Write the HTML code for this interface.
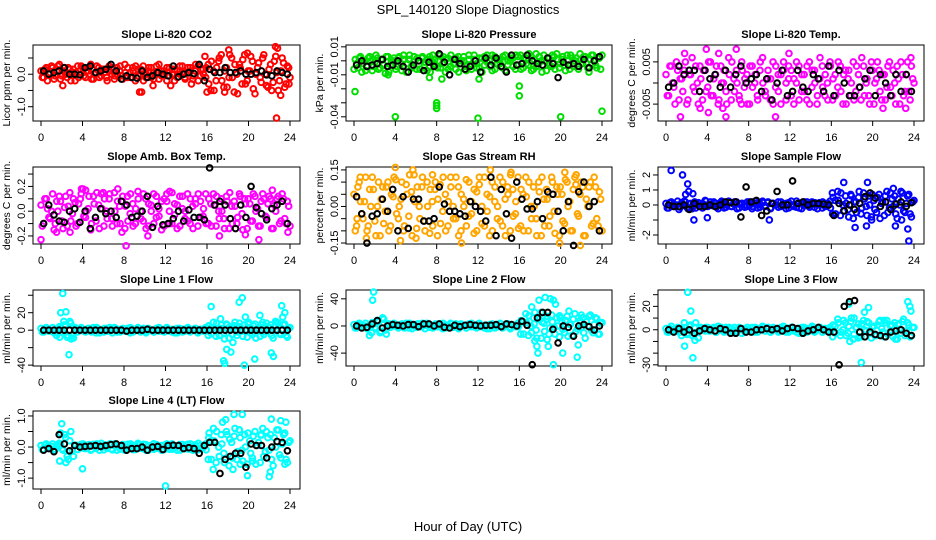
<!DOCTYPE html>
<html><head><meta charset="utf-8"><style>
html,body{margin:0;padding:0;background:#fff;}
svg{display:block;font-family:"Liberation Sans",sans-serif;}
</style></head><body>
<svg id="chart" width="936" height="540" viewBox="0 0 936 540">
<text x="468" y="14" text-anchor="middle" font-size="13">SPL_140120  Slope Diagnostics</text>
<text x="468" y="531" text-anchor="middle" font-size="13">Hour of Day (UTC)</text>
</svg>
<script>
const xTicks=[0,4,8,12,16,20,24];
const titles=["Slope Li-820 CO2","Slope Li-820 Pressure","Slope Li-820 Temp.","Slope Amb. Box Temp.","Slope Gas Stream RH","Slope Sample Flow","Slope Line 1 Flow","Slope Line 2 Flow","Slope Line 3 Flow","Slope Line 4 (LT) Flow"];
const yTitles=["Licor ppm per min.","kPa per min.","degrees C per min.","degrees C per min.","percent per min.","ml/min per min.","ml/min per min.","ml/min per min.","ml/min per min.","ml/min per min."];
const colors=["#ff0000","#00dd00","#ff00ff","#ff00ff","#ffa500","#0000ff","#00ffff","#00ffff","#00ffff","#00ffff"];
const yRanges=[[-1.44,0.9],[-0.043,0.0113],[-0.009,0.009],[-0.265,0.357],[-0.154,0.162],[-2.6,2.53],[-41,46],[-59,53],[-31,34],[-1.35,1.16]];
const yTickVals=[[-1,-0.5,0,0.5],[-0.04,-0.03,-0.02,-0.01,0,0.01],[-0.005,0,0.005],[-0.2,-0.1,0,0.1,0.2,0.3],[-0.15,-0.1,-0.05,0,0.05,0.1,0.15],[-2,-1,0,1,2],[-40,-20,0,20,40],[-40,0,40],[-30,-20,-10,0,10,20,30],[-1,-0.5,0,0.5,1]];
const yTickLabels=[["-1.0","","0.0",""],["-0.04","","","-0.01","","0.01"],["-0.005","","0.005"],["-0.2","","0.0","","0.2",""],["-0.15","","","0.00","","","0.15"],["-2","","0","1","2"],["-40","","0","20",""],["-40","0","40"],["-30","","","0","","20",""],["-1.0","","0.0","","1.0"]];
const col0=[0.1,-0.1,0.2,0.0,0.25,-0.15,0.1,0.3,-0.05,0.2,-0.1,0.15,0.05,-0.2,0.25,0.0,0.2,-0.1,0.1,0.3,-0.15,0.05,0.2,-0.05,0.15,-0.1,0.25,0.0,-0.15,0.2,0.1,-0.05,0.3,-0.1,0.05,0.2,-0.2,0.15,0.0,0.25,-0.1,0.1,0.2,-0.15,0.05,0.3,-0.05,0.1,-0.2,0.2,0.0,0.15,-0.1,0.25,0.05,-0.15,0.2,0.1,-0.05,0.3,-0.2,0.15,0.0,0.2,-0.3,0.4,-0.5,0.2,0.5,-0.2,0.1,-0.4,0.6,-0.1,0.3,-0.6,0.2,0.45,-0.3,0.1,0.55,-0.45,0.0,0.35,-0.25,0.6,-0.35,0.15,-0.5,0.4,0.05,-0.2,0.5,-0.4,0.25,-0.1];
const col1=[-0.006,-0.002,0.002,-0.008,0.000,-0.004,0.003,-0.007,-0.001,0.002,-0.005,0.001,-0.009,0.003,-0.003,0.000,-0.006,0.002,-0.002,0.004,-0.008,0.001,-0.004,0.003,-0.006,0.000,0.002,-0.003,-0.007,0.003,-0.001,0.001,-0.005,0.004,-0.002,-0.008,0.002,-0.004,0.001,-0.006,0.003,-0.002,0.000,-0.007,0.004,-0.003,0.001,-0.005,0.002,-0.008,0.003,-0.001,-0.004,0.004,-0.006,0.001,-0.002,0.003,-0.007,0.000,0.002,-0.004,0.004,-0.003,-0.006,0.002,-0.002,0.005,-0.007,0.001,-0.004,0.003,-0.008,0.000,0.002,-0.003,0.004,-0.006,0.001,-0.002,0.003,-0.007,0.000,0.004,-0.004,0.002,-0.006,0.001,0.003,-0.002,-0.008,0.004,0.000,-0.005,0.002,0.004];
const col2=[0.002,-0.003,0.004,-0.001,0.005,-0.004,0.001,0.003,-0.005,0.002,0.006,-0.002,0.000,0.004,-0.004,0.003,-0.001,0.005,-0.003,0.002,-0.005,0.004,0.000,-0.002,0.006,-0.004,0.001,0.003,-0.003,0.005,-0.001,0.002,-0.005,0.004,0.000,-0.003,0.003,0.006,-0.002,0.001,-0.004,0.005,-0.001,0.002,-0.005,0.003,0.000,0.004,-0.003,0.001,0.005,-0.004,0.002,-0.002,0.004,-0.005,0.003,0.000,-0.003,0.006,-0.001,0.002,-0.004,0.004,0.001,-0.003,0.005,-0.002,0.002,-0.005,0.003,0.000,-0.004,0.004,-0.001,0.006,-0.003,0.001,-0.005,0.003,0.000,0.005,-0.002,0.002,-0.004,0.004,-0.001,0.003,-0.005,0.001,0.005,-0.003,0.002,-0.002,0.004,0.000];
const col3=[0.05,-0.1,0.1,-0.05,0.0,-0.15,0.08,0.12,-0.08,0.03,-0.12,0.15,-0.02,0.07,-0.1,0.1,0.18,-0.05,0.02,-0.15,0.12,-0.08,0.05,0.14,-0.12,0.0,0.1,-0.06,0.15,-0.1,0.04,0.08,-0.14,0.12,-0.02,0.06,-0.1,0.16,0.0,-0.08,0.1,-0.12,0.05,0.14,-0.05,0.02,-0.15,0.1,0.08,-0.1,0.15,-0.03,0.05,-0.12,0.12,0.0,-0.08,0.1,-0.14,0.06,0.14,-0.05,0.02,-0.1,0.1,-0.12,0.05,0.12,-0.06,0.0,-0.14,0.08,0.15,-0.1,0.04,-0.05,0.12,-0.15,0.06,0.1,-0.08,0.14,0.0,-0.12,0.08,0.1,-0.05,0.12,-0.14,0.05,0.1,-0.1,0.14,-0.06,0.08,-0.12];
const col4=[0.05,-0.08,0.1,-0.03,0.02,-0.1,0.07,0.12,-0.06,0.0,-0.12,0.08,-0.02,0.1,-0.08,0.04,0.11,-0.05,0.03,-0.1,0.09,-0.04,0.06,0.13,-0.09,0.0,0.08,-0.06,0.1,-0.11,0.02,0.07,-0.12,0.09,-0.02,0.05,-0.08,0.12,0.0,-0.05,0.08,-0.1,0.03,0.11,-0.04,0.02,-0.11,0.06,0.09,-0.07,0.12,-0.02,0.04,-0.1,0.08,0.0,-0.06,0.1,-0.12,0.05,0.13,-0.04,0.02,-0.09,0.07,-0.1,0.04,0.1,-0.05,0.0,-0.12,0.06,0.12,-0.08,0.03,-0.04,0.1,-0.11,0.05,0.08,-0.06,0.11,0.0,-0.1,0.07,0.09,-0.04,0.1,-0.12,0.03,0.08,-0.08,0.12,-0.05,0.06,-0.1];
const col5=[0.1,-0.2,0.2,-0.1,0.0,-0.3,0.15,0.25,-0.15,0.05,-0.25,0.2,0.0,0.1,-0.2,0.3,-0.1,0.2,-0.05,0.1,-0.25,0.15,0.0,-0.15,0.25,-0.1,0.05,0.2,-0.2,0.1,0.0,-0.1,0.2,-0.25,0.1,0.0,-0.15,0.25,-0.05,0.15,-0.2,0.1,0.0,0.2,-0.1,0.05,-0.25,0.15,0.0,-0.1,0.25,-0.2,0.1,-0.05,0.2,-0.15,0.05,0.15,-0.25,0.0,0.2,-0.1,0.1,-0.2,0.5,-0.6,0.3,0.8,-0.4,0.1,-0.8,0.6,0.2,-0.5,0.9,-0.2,0.4,-0.7,0.0,0.7,-0.3,0.5,-0.9,0.2,0.6,-0.5,0.8,-0.1,-0.6,0.4,0.9,-0.4,0.1,0.7,-0.8,0.3];
const col6=[2,-2,3,-1,0,-3,1,4,-2,6,-8,10,-6,3,-2,1,0,-2,2,-1,3,-3,1,0,-2,2,-1,1,3,-2,0,1,-1,2,-3,1,0,3,-2,1,-1,2,0,-2,1,3,-1,0,2,-1,1,-3,2,0,-2,1,3,-1,0,2,-2,1,0,-1,5,-4,3,8,-6,2,-10,6,4,-5,9,-2,4,-7,0,7,-3,5,-9,2,6,-5,8,-1,-6,4,9,-4,1,7,-8,3];
const col7=[2,-3,4,-1,0,-4,1,5,-2,8,-10,12,-6,3,-2,1,0,-3,2,-1,4,-3,1,0,-2,3,-1,1,4,-2,0,1,-1,3,-4,1,0,4,-2,1,-1,3,0,-3,1,4,-1,0,2,-1,1,-4,2,0,-3,1,4,-1,0,3,-2,1,0,-1,8,-12,5,15,-10,3,-18,10,6,-8,14,-3,6,-12,0,12,-5,8,-15,3,10,-8,12,-2,-10,6,14,-6,2,11,-12,5];
const col8=[1,-2,3,-1,0,-2,1,6,-4,3,-5,2,-2,1,0,-1,2,-1,1,-2,3,0,-1,2,-2,1,0,-1,2,-3,1,0,-1,2,-2,1,0,3,-1,1,-2,2,0,-1,1,3,-2,0,2,-1,1,-3,2,0,-2,1,3,-1,0,2,-2,1,0,-1,4,-3,6,-2,8,-5,3,10,-4,2,-6,5,0,7,-3,2,-5,4,8,-2,6,-4,3,-6,1,5,-3,9,-1,4,-5,2];
const col9=[0.05,-0.08,0.1,-0.03,0.02,-0.1,0.07,0.12,-0.06,0.4,-0.3,0.2,-0.1,0.05,-0.08,0.04,0.1,-0.05,0.03,-0.1,0.09,-0.04,0.06,0.12,-0.09,0.0,0.08,-0.06,0.1,-0.1,0.02,0.07,-0.1,0.09,-0.02,0.05,-0.08,0.12,0.0,-0.05,0.08,-0.1,0.03,0.11,-0.04,0.02,-0.1,0.06,0.09,-0.07,0.1,-0.02,0.04,-0.1,0.08,0.0,-0.06,0.1,-0.1,0.05,0.12,-0.04,0.02,-0.09,0.3,-0.4,0.2,0.5,-0.3,0.1,-0.5,0.4,0.25,-0.35,0.6,-0.15,0.3,-0.45,0.0,0.45,-0.2,0.35,-0.55,0.15,0.4,-0.3,0.5,-0.1,-0.4,0.3,0.55,-0.25,0.1,0.45,-0.5,0.2];
const col0b=[-0.1,0.15,-0.2,0.05,0.2,-0.05,0.25,-0.15,0.1,0.0,0.2,-0.2,0.15,0.05,-0.1,0.25,-0.05,0.1,0.2,-0.15,0.0,0.25,-0.1,0.15,0.05,-0.2,0.1,0.2,-0.05,0.0,0.25,-0.15,0.05,0.2,-0.1,0.1,0.25,-0.05,0.15,-0.2,0.0,0.2,-0.1,0.05,0.25,-0.15,0.1,0.0,0.2,-0.05,0.15,-0.2,0.1,0.0,0.25,-0.1,0.05,0.2,-0.15,0.1,0.25,-0.05,0.15,-0.1,0.3,-0.5,0.1,-0.2,0.4,0.6,-0.4,0.2,-0.1,0.5,-0.55,0.0,0.3,-0.3,0.6,-0.2,0.1,0.4,-0.6,0.2,-0.1,0.5,0.0,-0.4,0.3,-0.25,0.55,-0.5,0.1,0.35,-0.3,0.2];
const col1b=[0.001,-0.005,0.003,-0.002,-0.007,0.002,0.000,-0.004,0.004,-0.006,0.001,-0.003,0.003,-0.008,0.000,0.002,-0.004,0.003,-0.007,0.001,-0.002,0.004,-0.005,0.000,0.002,-0.006,0.003,-0.001,0.001,-0.008,0.004,-0.003,0.000,-0.005,0.003,0.001,-0.006,0.004,-0.002,0.002,-0.008,0.000,0.003,-0.004,0.001,-0.006,0.004,-0.002,-0.005,0.002,-0.003,0.004,0.000,-0.007,0.003,-0.002,0.001,-0.005,0.004,-0.003,0.000,0.002,-0.006,0.003,0.004,-0.005,0.001,-0.003,0.003,-0.006,0.005,-0.002,0.000,0.004,-0.007,0.002,-0.004,0.003,0.005,-0.005,0.001,-0.003,0.004,-0.006,0.002,0.000,-0.004,0.005,-0.002,0.003,-0.005,0.001,0.004,-0.003,0.002,-0.006];
const col2b=[-0.003,0.004,0.000,-0.005,0.003,0.001,-0.002,0.005,-0.004,0.002,-0.001,0.004,-0.005,0.001,0.003,-0.002,0.005,-0.003,0.001,0.004,-0.004,0.000,0.003,-0.005,0.002,0.005,-0.002,0.000,-0.004,0.003,0.001,-0.005,0.004,-0.001,0.002,-0.004,0.005,0.000,-0.003,0.003,0.001,-0.005,0.004,-0.002,0.002,0.005,-0.004,0.001,0.003,-0.005,0.000,0.004,-0.002,0.002,-0.004,0.005,-0.001,0.003,-0.005,0.001,0.004,-0.003,0.000,0.005,-0.004,0.002,-0.001,0.004,-0.005,0.003,0.001,-0.003,0.005,-0.002,0.002,-0.004,0.004,0.000,-0.003,0.005,-0.005,0.001,0.003,-0.004,0.002,-0.001,0.005,-0.003,0.000,0.004,-0.005,0.002,-0.002,0.005,-0.004,0.001];
const col3b=[-0.12,0.1,0.02,-0.06,0.14,-0.1,0.0,0.08,-0.14,0.12,0.04,-0.08,0.1,-0.12,0.06,0.14,-0.04,0.0,0.12,-0.1,0.06,0.15,-0.14,0.02,0.1,-0.06,0.14,-0.12,0.0,0.08,-0.1,0.12,0.04,-0.08,0.14,-0.12,0.02,0.1,-0.06,0.14,-0.14,0.06,0.0,-0.1,0.12,-0.04,0.08,-0.12,0.14,0.0,-0.1,0.06,-0.14,0.12,0.02,-0.06,0.14,-0.1,0.04,0.1,-0.12,0.08,-0.04,0.14,-0.1,0.06,0.14,-0.12,0.0,0.1,-0.06,0.12,-0.14,0.04,0.08,-0.1,0.14,-0.02,0.1,-0.14,0.06,-0.08,0.12,0.02,-0.12,0.14,-0.04,0.06,0.1,-0.14,0.0,0.12,-0.08,0.1,-0.1,0.04];
const col4b=[-0.1,0.08,0.02,-0.05,0.12,-0.08,0.0,0.07,-0.12,0.1,0.03,-0.07,0.08,-0.1,0.05,0.12,-0.03,0.0,0.1,-0.08,0.05,0.13,-0.12,0.02,0.08,-0.05,0.12,-0.1,0.0,0.07,-0.08,0.1,0.03,-0.07,0.12,-0.1,0.02,0.08,-0.05,0.12,-0.12,0.05,0.0,-0.08,0.1,-0.03,0.07,-0.1,0.12,0.0,-0.08,0.05,-0.12,0.1,0.02,-0.05,0.12,-0.08,0.03,0.08,-0.1,0.07,-0.03,0.12,-0.08,0.05,0.12,-0.1,0.0,0.08,-0.05,0.1,-0.12,0.03,0.07,-0.08,0.12,-0.02,0.08,-0.12,0.05,-0.07,0.1,0.02,-0.1,0.12,-0.03,0.05,0.08,-0.12,0.0,0.1,-0.07,0.08,-0.08,0.03];
const col5b=[-0.2,0.15,0.0,-0.1,0.25,-0.15,0.05,0.2,-0.25,0.1,0.0,-0.2,0.15,-0.1,0.05,0.25,-0.05,0.0,0.2,-0.15,0.1,0.25,-0.2,0.0,0.15,-0.1,0.2,-0.25,0.05,0.1,-0.15,0.2,0.0,-0.1,0.25,-0.2,0.05,0.15,-0.1,0.2,-0.25,0.1,0.0,-0.15,0.2,-0.05,0.1,-0.2,0.25,0.0,-0.15,0.1,-0.25,0.2,0.05,-0.1,0.2,-0.15,0.05,0.15,-0.2,0.1,-0.05,0.25,-0.6,0.3,0.9,-0.7,0.0,0.6,-0.3,0.7,-0.9,0.2,0.5,-0.6,0.8,-0.1,0.6,-0.8,0.3,-0.5,0.7,0.1,-0.7,0.9,-0.2,0.4,0.6,-0.9,0.0,0.8,-0.5,0.6,-0.6,0.2];
const col6b=[-2,1,0,-1,3,-2,0,2,-3,5,-6,8,-9,2,1,3,-1,0,2,-2,1,3,-3,0,2,-1,3,-3,1,1,-2,2,0,-1,3,-2,1,2,-1,2,-3,1,0,-2,2,-1,1,-2,3,0,-2,1,-3,2,1,-1,2,-2,1,2,-3,1,-1,3,-6,3,9,-7,0,6,-3,7,-9,2,5,-6,8,-1,6,-8,3,-5,7,1,-7,9,-2,4,6,-9,0,8,-5,6,-6,2];
const col7b=[-3,2,0,-2,4,-3,0,3,-4,6,-8,10,-12,3,1,4,-1,0,3,-3,1,4,-4,0,3,-1,4,-4,1,1,-3,3,0,-1,4,-3,1,3,-1,3,-4,1,0,-3,3,-1,1,-3,4,0,-3,1,-4,3,1,-1,3,-3,1,3,-4,1,-1,4,-12,6,18,-14,0,12,-6,14,-18,4,10,-12,16,-2,12,-16,6,-10,14,2,-14,18,-4,8,12,-18,0,16,-10,12,-12,4];
const col8b=[-2,1,0,-1,2,-2,0,2,-3,4,-5,6,-7,2,1,2,-1,0,2,-2,1,2,-2,0,2,-1,2,-2,1,1,-2,2,0,-1,2,-2,1,2,-1,2,-2,1,0,-2,2,-1,1,-2,2,0,-2,1,-2,2,1,-1,2,-2,1,2,-2,1,-1,2,-6,3,9,-5,0,6,-3,7,-8,2,5,-6,8,-1,6,-7,3,-5,7,1,-6,8,-2,4,6,-8,0,7,-5,6,-6,2];
const col9b=[-0.08,0.06,0.0,-0.05,0.1,-0.07,0.02,0.08,-0.1,0.3,-0.4,0.5,-0.3,0.06,0.03,0.09,-0.04,0.0,0.08,-0.08,0.04,0.1,-0.1,0.0,0.07,-0.04,0.1,-0.09,0.03,0.05,-0.07,0.08,0.0,-0.05,0.1,-0.08,0.03,0.07,-0.04,0.09,-0.1,0.04,0.0,-0.07,0.08,-0.03,0.05,-0.08,0.1,0.0,-0.07,0.04,-0.1,0.08,0.03,-0.05,0.09,-0.07,0.03,0.07,-0.09,0.05,-0.03,0.1,-0.4,0.2,0.6,-0.5,0.0,0.4,-0.2,0.5,-0.6,0.15,0.35,-0.4,0.55,-0.1,0.4,-0.55,0.2,-0.35,0.5,0.05,-0.5,0.6,-0.15,0.3,0.4,-0.6,0.0,0.55,-0.35,0.4,-0.4,0.15];
const out0=[[2.1,-0.35],[9.5,-0.55],[9.7,-0.55],[10.8,-0.35],[12.5,-0.35],[14.5,-0.3],[15.8,0.55],[16,-0.55],[18.1,0.75],[19.9,0.65],[22.6,0.85],[22.8,0.8],[23.1,-0.65],[22.7,-1.35],[17.7,-0.55],[23.9,-0.3]];
const out1=[[0.1,-0.022],[4,-0.040],[8,-0.030],[8,-0.032],[8,-0.034],[12,-0.041],[16,-0.018],[16,-0.025],[20,-0.040],[24,-0.036],[7.3,-0.012],[8.5,-0.013],[12.1,-0.013],[3.3,-0.010]];
const out2=[[1.4,-0.008],[1.8,0.007],[3.9,0.008],[4.1,-0.007],[5.1,0.007],[5.5,-0.006],[5.8,-0.008],[7.3,-0.005],[6.8,0.008],[10.6,-0.008],[11.9,0.007],[21,-0.006],[23.2,-0.006],[23.7,0.006],[3.3,-0.006]];
const out3=[[0,-0.23],[1.5,-0.17],[2.8,-0.17],[3.9,0.18],[4.3,0.17],[6,0.15],[7.4,0.18],[7.8,-0.17],[8.2,-0.28],[10.3,-0.2],[12.4,0.16],[17.2,-0.2],[19.7,-0.19],[21,-0.23],[23.8,-0.17],[22.3,0.17]];
const out4=[[0.3,-0.05],[0.6,0.12],[1.2,-0.13],[4,0.16],[4.5,-0.14],[5.7,0.15],[6,-0.13],[10.4,-0.15],[13.2,0.15],[15.2,0.14],[20.4,0.14],[21.5,0.13],[19.9,-0.15],[21.9,-0.16],[7.6,0.13]];
const out5=[[0.5,2.3],[1.6,2.0],[2.1,1.4],[2.2,0.9],[1.9,0.7],[2.6,0.75],[2.7,-1.0],[4,-0.85],[10,-1.0],[17.2,1.5],[18.3,-1.5],[19.5,1.5],[19.4,-1.4],[19.9,-1.0],[22.2,-1.4],[22.8,-1.0],[23.4,-1.6],[23.5,-2.4],[22,1.1],[16.1,0.8]];
const out6=[[2.1,42],[1.9,20],[2.4,21],[2.2,10],[1.5,-6],[1.8,-8],[2.7,-28],[2.9,-10],[16.4,27],[17.3,13],[17.6,-35],[17.7,-38],[17.9,-22],[18.5,-14],[18.3,-25],[19.1,32],[19.4,37],[19.6,-40],[19.7,15],[20,9],[20.6,-33],[21.1,17],[22.2,-26],[22.4,-30],[22.6,10],[23.2,28],[23.5,20],[23.3,15]];
const out7=[[1.9,50],[1.8,38],[1.7,-10],[1.5,-14],[17.2,28],[17.5,20],[17.7,-30],[17.8,-40],[17.9,38],[18.5,42],[19,40],[19.3,38],[19.5,32],[18.1,20],[18.7,-20],[19.3,-57],[18.8,-30],[20.2,-40],[20.8,22],[21.6,-46],[21.7,-28],[22,16],[17.5,-22],[19.9,15]];
const out8=[[2.1,32],[2.4,16],[1.5,-5],[1.8,-14],[2.6,-24],[2.8,-9],[17.7,22],[18.6,-7],[18.9,-28],[18.2,10],[19.2,15],[19.6,19],[23.4,24],[23.6,20],[23.7,16],[17.8,-10],[22.2,-8],[21.1,8]];
const out9=[[2,0.75],[1.9,0.45],[1.8,-0.45],[2.4,-0.5],[4,-0.7],[12,-1.25],[16.2,0.45],[16.6,-0.72],[17.5,0.8],[17.8,0.88],[18.6,1.05],[19.1,0.55],[19.4,1.05],[19.9,-0.92],[20.4,-0.45],[21.2,0.38],[22,-0.95],[22.1,-0.8],[22.2,0.9],[23.1,0.85],[23.5,-0.55],[23.6,0.8],[19.2,-0.55],[18.5,-0.72]];
const blk0=[0.1,0.0,0.05,0.1,0.2,0.0,0.0,-0.02,0.2,0.25,0.05,0.1,0.15,0.3,0.1,-0.15,-0.05,-0.1,-0.12,0.1,-0.1,-0.05,0.05,0.0,-0.05,0.25,-0.08,0.0,0.05,0.02,0.3,-0.2,0.15,0.05,0.05,0.2,0.05,0.05,0.1,0.0,0.0,0.05,0.1,-0.02,-0.05,0.1,0.05,0.0];
const blk1=[-0.003,0.000,-0.004,-0.003,-0.002,0.001,-0.004,-0.003,0.000,-0.004,-0.008,-0.003,0.000,-0.007,-0.001,-0.004,0.005,-0.001,-0.010,0.001,-0.002,-0.006,-0.004,0.000,-0.008,0.002,-0.003,0.002,-0.004,-0.008,0.004,-0.003,-0.002,0.004,0.000,-0.002,-0.003,0.002,-0.002,-0.012,-0.001,-0.003,-0.002,-0.004,0.001,-0.005,0.000,0.003];
const blk2=[-0.001,0.000,0.004,0.002,0.003,0.003,-0.002,0.003,0.001,0.002,-0.001,0.003,-0.001,0.002,0.004,0.000,0.001,0.002,-0.002,0.001,-0.004,0.000,0.003,-0.003,-0.002,0.003,-0.001,-0.002,0.002,0.001,-0.002,0.004,-0.003,0.003,0.000,-0.003,-0.003,-0.001,0.001,0.003,-0.003,0.002,0.000,-0.003,0.002,-0.002,0.002,-0.002];
const blk3=[-0.1,0.05,-0.03,-0.08,-0.09,0.0,0.02,-0.09,0.0,-0.14,-0.05,0.02,-0.02,0.0,-0.05,0.08,0.05,-0.05,-0.04,0.0,0.12,-0.13,0.04,-0.11,-0.1,-0.06,0.0,-0.08,0.01,-0.05,-0.05,-0.07,0.35,0.05,0.08,0.05,-0.06,-0.14,0.05,-0.05,0.2,0.03,-0.02,-0.07,0.02,0.05,0.08,-0.1];
const blk4=[0.04,-0.03,-0.15,-0.04,-0.03,0.03,-0.02,0.07,-0.1,0.04,-0.09,0.03,0.03,-0.06,-0.06,-0.05,0.08,0.01,-0.02,-0.02,-0.03,-0.04,0.02,0.0,-0.02,-0.06,0.12,-0.12,0.07,-0.03,-0.13,0.1,0.03,-0.01,-0.01,0.02,-0.05,0.06,0.05,-0.02,-0.1,0.02,-0.16,0.06,0.1,0.0,0.02,-0.1];
const blk5=[0.0,-0.1,-0.1,0.0,-0.3,0.1,-0.1,-0.1,0.0,-0.1,0.0,0.2,0.15,0.2,-0.8,1.2,0.2,0.3,-0.7,-0.4,0.1,0.9,0.0,0.0,1.6,0.1,0.2,0.0,0.1,0.1,0.05,0.0,-0.7,0.1,-0.4,0.0,-0.3,0.1,0.55,0.8,0.45,-0.1,0.2,-0.3,0.05,0.2,-0.1,0.15];
const blk6=[0,0,0,0,0,0,0,0,0,0,0,0,0,0,0,0,-1,0,0,0,1,0,0,0,0,0,0,0,0,0,0,0,0,0,0,0,0,0,0,0,0,0,0,0,0,0,0,0];
const blk7=[0,-3,-2,3,8,-3,0,2,1,0,2,2,-1,3,3,0,3,-2,-3,1,-1,1,2,1,0,1,1,2,-1,3,2,0,7,1,-57,12,20,20,-5,-25,0,-2,-15,0,2,-1,-6,0];
const blk8=[0,-2,1,-2,0,-3,-1,1,0,-1,1,0,-3,-3,1,-2,-2,0,0,1,0,1,-1,1,2,1,-3,-1,0,2,0,-2,-2,-30,20,24,25,-2,-6,-2,-4,-5,-6,-2,-1,0,-3,-5];
const blk9=[-0.1,-0.05,-0.15,0.4,0.1,-0.12,0.05,0.0,0.02,0.03,0.05,0.02,0.05,0.08,0.1,0.05,-0.1,-0.05,-0.05,0.0,-0.1,0.0,0.02,-0.08,0.05,0.06,0.05,-0.05,-0.02,-0.05,-0.2,0.05,0.15,0.15,-0.85,-0.4,-0.3,-0.2,-0.2,-0.65,0.1,0.05,0.05,-0.35,0.0,0.18,0.15,-0.12];
const colSeries=[col0,col1,col2,col3,col4,col5,col6,col7,col8,col9];
const colSeriesB=[col0b,col1b,col2b,col3b,col4b,col5b,col6b,col7b,col8b,col9b];
const outSeries=[out0,out1,out2,out3,out4,out5,out6,out7,out8,out9];
const blkSeries=[blk0,blk1,blk2,blk3,blk4,blk5,blk6,blk7,blk8,blk9];

const NS="http://www.w3.org/2000/svg";
const svg=document.getElementById('chart');
const colBoxes=[[33,300],[346,612],[658,924]];
const rowBoxes=[[45,121],[167,244],[290,366],[411,489]];
function mk(tag,attrs,parent){const e=document.createElementNS(NS,tag);for(const k in attrs)e.setAttribute(k,attrs[k]);(parent||svg).appendChild(e);return e;}
function slug(s){return s.toLowerCase().replace(/[^a-z0-9]+/g,'-').replace(/^-|-$/g,'');}

for(let p=0;p<10;p++){
  const L=colBoxes[p%3][0],R=colBoxes[p%3][1],T=rowBoxes[Math.floor(p/3)][0],B=rowBoxes[Math.floor(p/3)][1];
  const [y0,y1]=yRanges[p];
  const xs=h=>L+8+(R-L-18)*h/24;
  const ys=v=>B-(v-y0)/(y1-y0)*(B-T);
  const g=mk('g',{});
  
  
  const t=mk('text',{x:(L+R)/2,y:T-7,'text-anchor':'middle','font-size':11,'font-weight':'bold'},g);
  t.textContent=titles[p];
  
  
  const yt=mk('text',{transform:`translate(${L-23},${(T+B)/2}) rotate(-90)`,'text-anchor':'middle','font-size':10.5},g);
  yt.textContent=yTitles[p];
  
  
  const box=mk('rect',{x:L,y:T,width:R-L,height:B-T,fill:'none',stroke:'#000','stroke-width':1},g);
  
  
  xTicks.forEach(h=>{
    const tk=mk('line',{x1:xs(h),x2:xs(h),y1:B,y2:B+5,stroke:'#000'},g);
    
    
    const tl=mk('text',{x:xs(h),y:B+20,'text-anchor':'middle','font-size':11},g);
    tl.textContent=h;
    
    
  });
  yTickVals[p].forEach((v,i)=>{
    const tk=mk('line',{x1:L-5,x2:L,y1:ys(v),y2:ys(v),stroke:'#000'},g);
    
    
    if(yTickLabels[p][i]){
      const tl=mk('text',{transform:`translate(${L-8},${ys(v)}) rotate(-90)`,'text-anchor':'middle','font-size':11},g);
      tl.textContent=yTickLabels[p][i];
      
      
    }
  });
  const cs=colSeries[p];
  cs.forEach((v,i)=>{
    const c=mk('circle',{cx:xs(i*24/(cs.length-1)),cy:ys(v),r:2.8,fill:'none',stroke:colors[p],'stroke-width':2},g);
    
    
  });
  const cb=colSeriesB[p];
  cb.forEach((v,i)=>{
    const c=mk('circle',{cx:xs((i+0.5)*24/cb.length),cy:ys(v),r:2.8,fill:'none',stroke:colors[p],'stroke-width':2},g);
    
    
  });
  outSeries[p].forEach(o=>{
    const c=mk('circle',{cx:xs(o[0]),cy:ys(o[1]),r:2.8,fill:'none',stroke:colors[p],'stroke-width':2},g);
    
    
  });
  blkSeries[p].forEach((v,i)=>{
    const c=mk('circle',{cx:xs(0.25+i*0.5),cy:ys(v),r:2.8,fill:'none',stroke:'#000','stroke-width':2},g);
    
    
  });
}
</script>
</body></html>
